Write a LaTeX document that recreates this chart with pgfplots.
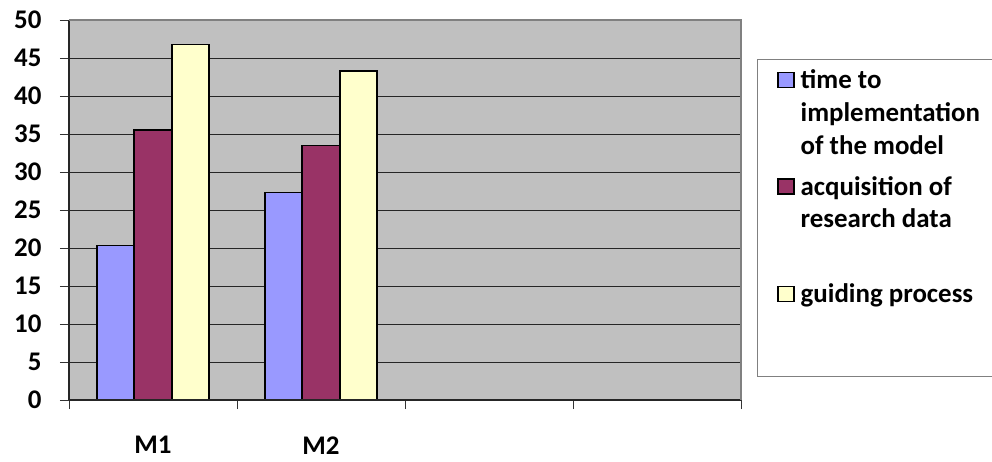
\documentclass[border=0pt]{standalone}
\usepackage{pgfplots}
\pgfplotsset{compat=1.18}
\usepackage{fontspec}
\setmainfont{Carlito}
\definecolor{plotbg}{HTML}{C0C0C0}
\definecolor{serA}{HTML}{9999FF}
\definecolor{serB}{HTML}{993366}
\definecolor{serC}{HTML}{FFFFCC}
\begin{document}
\begin{tikzpicture}
\useasboundingbox (-69bp,-62bp) rectangle (923bp,400bp);
\begin{axis}[
  scale only axis,
  width=672bp, height=380bp,
  at={(0,0)}, anchor=south west,
  ymin=0, ymax=50, ytick={0,5,...,50},
  xmin=-0.5, xmax=3.5,
  xtick={0,1}, xticklabels={M1,M2},
  minor xtick={-0.5,0.5,1.5,2.5,3.5},
  ybar=0pt, bar width=0.223,
  axis background/.style={fill=plotbg},
  axis line style={draw=none},
  ymajorgrids, grid style={black!85, line width=0.7bp},
  tick align=outside,
  major tick length=9bp,
  x tick style={draw=none},
  minor x tick style={draw=black!80, line width=0.8bp},
  minor tick length=9bp,
  y tick style={draw=black!80, line width=0.8bp},
  xtick pos=bottom, ytick pos=left,
  tick label style={font=\fontsize{27}{32}\selectfont\bfseries},
  yticklabel style={anchor=east, xshift=-15bp},
  xticklabel style={yshift=-24bp},
  /pgf/number format/assume math mode=true,
  legend style={at={([xshift=36bp]rel axis cs:1,0.876)}, anchor=north west,
    draw=none, fill=none, font=\fontsize{27}{33}\selectfont\bfseries,
    row sep=0bp, column sep=4bp, inner sep=0bp,
    cells={anchor=north west, inner sep=2bp}},
  legend image code/.code={\draw[#1, line width=1.5bp] (1bp,-5bp) rectangle (17bp,-20bp);},
  clip=false,
]
\addplot[fill=serA, draw=black, line width=1.6bp] coordinates {(0,20.35) (1,27.3)};
\addplot[fill=serB, draw=black, line width=1.6bp] coordinates {(0,35.5) (1,33.5)};
\addplot[fill=serC, draw=black, line width=1.6bp] coordinates {(0,46.8) (1,43.3)};
\addlegendentry{\parbox[b][101bp][t]{190bp}{time to\\implementation\\of the model}}
\addlegendentry{\parbox[b][102bp][t]{190bp}{acquisition of\\research data}}
\addlegendentry{\parbox[b][60bp][t]{190bp}{guiding process}}
\draw[black!85, line width=1.4bp] (rel axis cs:0,0) -- (rel axis cs:0,1);
\draw[black!85, line width=1.4bp] (rel axis cs:0,0) -- (rel axis cs:1,0);
\draw[gray, line width=2bp] (rel axis cs:0,1) -- (rel axis cs:1,1) -- (rel axis cs:1,0);
\draw[gray, line width=1bp] ([xshift=16.7bp]rel axis cs:1,0.895) rectangle ([xshift=260bp]rel axis cs:1,0.0614);
\end{axis}
\end{tikzpicture}
\end{document}
